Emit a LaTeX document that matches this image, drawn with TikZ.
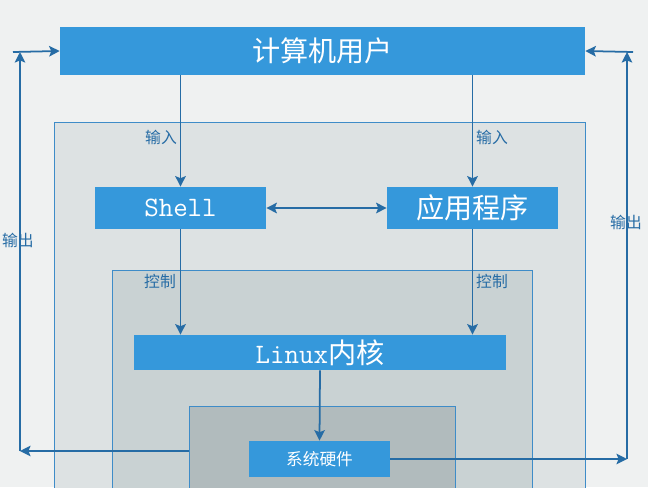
\documentclass[tikz,border=0pt]{standalone}
\usepackage{fontspec}
\usepackage{xcolor}
\usepackage{tikz}
\usetikzlibrary{arrows.meta, positioning, calc}
\newfontfamily\cjk{Noto Sans CJK SC}
\definecolor{boxblue}{RGB}{53, 152, 219}
\definecolor{lineblue}{RGB}{38, 108, 165}
\definecolor{edgeblue}{RGB}{62, 140, 200}
\definecolor{paper}{RGB}{239, 241, 241}
\definecolor{layerone}{RGB}{221, 226, 227}
\definecolor{layertwo}{RGB}{201, 210, 211}
\definecolor{layerthree}{RGB}{177, 187, 189}
\tikzset{
  bluebox/.style={fill=boxblue, text=white, inner sep=0pt, font=\cjk\fontsize{16}{18}\selectfont},
  layerbox/.style={draw=edgeblue, line width=0.5pt},
  flow/.style={draw=lineblue, line width=1pt, -{Stealth[length=6pt, width=6pt, inset=1.2pt]}},
  tag/.style={text=lineblue, font=\cjk\fontsize{9}{10}\selectfont}
}

\begin{document}
\begin{tikzpicture}[x=0.02cm, y=-0.02cm]
        % Page
        \clip (0,0) rectangle (648,487);
        \fill[paper] (0,0) rectangle (648,487);

        % Layers
        \filldraw[layerbox, fill=layerone] (54,122) rectangle (585,520);
        \filldraw[layerbox, fill=layertwo] (112,270) rectangle (532,520);
        \filldraw[layerbox, fill=layerthree] (189,406) rectangle (455,520);

        % Boxes
        \node[bluebox, minimum width=10.5cm, minimum height=0.96cm] (user) at (322.5,51) {计算机用户};
        \node[bluebox, minimum width=3.42cm, minimum height=0.84cm] (shell) at (180.5,208) {\ttfamily Shell};
        \node[bluebox, minimum width=3.42cm, minimum height=0.84cm] (app) at (472.5,208) {应用程序};
        \node[bluebox, minimum width=7.44cm, minimum height=0.7cm] (kernel) at (320,352.5) {{\ttfamily Linux}内核};
        \node[bluebox, minimum width=2.82cm, minimum height=0.72cm, font=\cjk\fontsize{9.5}{11}\selectfont] (hw) at (319.5,459) {系统硬件};

        % Input and control
        \draw[flow] (shell.north |- user.south) -- (shell.north);
        \draw[flow] (app.north |- user.south) -- (app.north);
        \draw[flow, {Stealth[length=6pt, width=6pt, inset=1.2pt]}-{Stealth[length=6pt, width=6pt, inset=1.2pt]}] (shell.east) -- (app.west);
        \draw[flow] (shell.south) -- (shell.south |- kernel.north);
        \draw[flow] (app.south) -- (app.south |- kernel.north);
        \draw[flow] (kernel.south) -- (hw.north);
        \node[tag] (inL) at (161,137) {输入};
        \node[tag] (inR) at (492,137) {输入};
        \node[tag] (ctlL) at (160,281) {控制};
        \node[tag] (ctlR) at (492,281) {控制};

        % Output, left
        \coordinate (outL) at (189,451);
        \coordinate (downL) at (20,451);
        \coordinate (upL) at (20,52);
        \coordinate (startL) at (13,52);
        \draw[flow] (outL) -- (downL);
        \draw[flow] (downL) -- (upL);
        \draw[flow] (startL) -- (user.west);
        \node[tag] (outTagL) at (18,240) {输出};

        % Output, right
        \coordinate (downR) at (627,459);
        \coordinate (upR) at (627,52);
        \coordinate (startR) at (633,52);
        \draw[flow] (hw.east) -- (downR);
        \draw[flow] (downR) -- (upR);
        \draw[flow] (startR) -- (user.east);
        \node[tag] (outTagR) at (626,222) {输出};
    \end{tikzpicture}
\end{document}
